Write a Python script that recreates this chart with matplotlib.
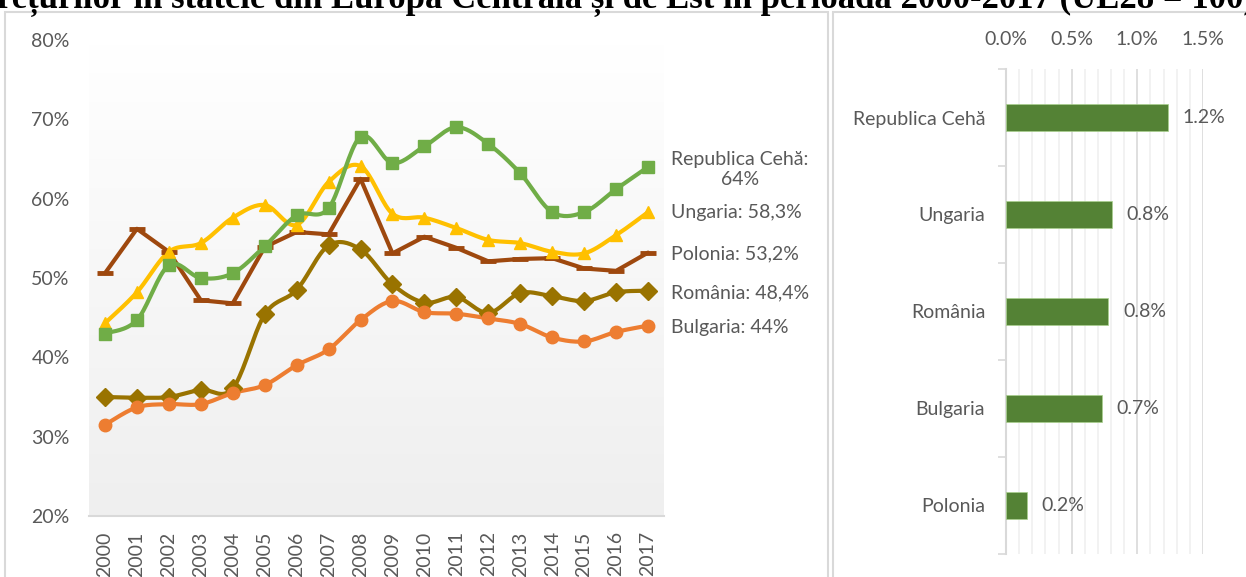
import matplotlib.pyplot as plt
from matplotlib.patches import Rectangle
from matplotlib.colors import LinearSegmentedColormap
import numpy as np

plt.rcParams['font.family'] = ['Lato', 'DejaVu Sans']

years = [str(y) for y in range(2000, 2018)]
ceha = [43.0, 44.7, 51.6, 50.0, 50.6, 54.0, 57.9, 58.8, 67.8, 64.5, 66.6, 69.0, 66.9, 63.2, 58.3, 58.3, 61.2, 64.0]
ungaria = [44.3, 48.2, 53.3, 54.4, 57.6, 59.2, 56.7, 62.1, 64.1, 58.1, 57.6, 56.3, 54.8, 54.4, 53.3, 53.1, 55.4, 58.3]
polonia = [50.6, 56.2, 53.3, 47.2, 46.8, 53.9, 55.8, 55.5, 62.5, 53.1, 55.2, 53.8, 52.1, 52.4, 52.5, 51.2, 50.9, 53.2]
romania = [35.0, 34.9, 35.0, 35.9, 36.1, 45.4, 48.5, 54.1, 53.6, 49.2, 46.9, 47.6, 45.6, 48.1, 47.7, 47.1, 48.2, 48.4]
bulgaria = [31.5, 33.7, 34.1, 34.1, 35.5, 36.5, 39.0, 41.0, 44.7, 47.1, 45.7, 45.5, 44.9, 44.2, 42.5, 42.0, 43.2, 44.0]

end_labels = ["Republica Cehă:\n64%", "Ungaria: 58,3%", "Polonia: 53,2%", "România: 48,4%", "Bulgaria: 44%"]

bar_countries = ["Republica Cehă", "Ungaria", "România", "Bulgaria", "Polonia"]
bar_values = [1.23, 0.81, 0.78, 0.73, 0.16]

GRAY = '#595959'
FS = 14


def smooth(x, y, n=20):
    # linie netezita ca in Excel (Bezier cu puncte de control Catmull-Rom)
    p = np.column_stack([x, y]).astype(float)
    out = []
    t = np.linspace(0, 1, n)[:, None]
    for i in range(len(p) - 1):
        p0 = p[i - 1] if i > 0 else p[i]
        p3 = p[i + 2] if i + 2 < len(p) else p[i + 1]
        c1 = p[i] + (p[i + 1] - p0) / 6
        c2 = p[i + 1] - (p3 - p[i]) / 6
        seg = ((1 - t) ** 3) * p[i] + 3 * ((1 - t) ** 2) * t * c1 + 3 * (1 - t) * t ** 2 * c2 + t ** 3 * p[i + 1]
        out.append(seg if i == 0 else seg[1:])
    out = np.vstack(out)
    return out[:, 0], out[:, 1]


fig = plt.figure(figsize=(12.46, 5.77), dpi=100)

# chenare panouri
fig.patches.append(Rectangle((5 / 1246, -0.01), 823 / 1246, 1 - 12 / 577 + 0.01,
                             transform=fig.transFigure, fill=False, ec='#D9D9D9', lw=1.5))
fig.patches.append(Rectangle((833 / 1246, -0.01), 420 / 1246, 1 - 12 / 577 + 0.01,
                             transform=fig.transFigure, fill=False, ec='#D9D9D9', lw=1.5))

fig.text(-3 / 1246, 1 - 8 / 577,
         "rețurilor în statele din Europa Centrală și de Est în perioada 2000-2017 (UE28 = 100)",
         family='Liberation Serif', weight='bold', fontsize=25, ha='left', va='baseline')

# grafic linii
ax = fig.add_axes([89 / 1246, 61 / 577, 575 / 1246, 476 / 577])
x = np.arange(len(years))
grad = np.linspace(1, 0, 100)[:, None]
cmap = LinearSegmentedColormap.from_list('g', ['#EFEFEF', '#FFFFFF'])
ax.imshow(grad, extent=(-0.5, 17.5, 20, 80), aspect='auto', cmap=cmap, zorder=0)

series = [
    (romania, '#997300', 'D', 9, True),
    (bulgaria, '#ED7D31', 'o', 9, True),
    (polonia, '#9E480E', '_', 11, False),
    (ungaria, '#FFC000', '^', 9, True),
    (ceha, '#70AD47', 's', 8.5, True),
]
for vals, col, mk, ms, sm in series:
    if sm:
        sx, sy = smooth(x, vals)
    else:
        sx, sy = x, vals
    ax.plot(sx, sy, color=col, lw=3, solid_capstyle='round', zorder=2)
    ax.plot(x, vals, ls='none', marker=mk, ms=ms, color=col, mew=3.5 if mk == '_' else 1, zorder=3)

ax.text(19.88, 63.7, end_labels[0], ha='center', va='center', fontsize=FS, color=GRAY, linespacing=1.25)
ax.text(17.72, 58.2, end_labels[1], ha='left', va='center', fontsize=FS, color=GRAY)
ax.text(17.72, 53.0, end_labels[2], ha='left', va='center', fontsize=FS, color=GRAY)
ax.text(17.72, 48.1, end_labels[3], ha='left', va='center', fontsize=FS, color=GRAY)
ax.text(17.72, 43.8, end_labels[4], ha='left', va='center', fontsize=FS, color=GRAY)

ax.set_xlim(-0.5, 17.5)
ax.set_ylim(20, 80)
ax.set_xticks(x)
ax.set_xticklabels(years, rotation=90)
ax.set_yticks(range(20, 81, 10))
ax.set_yticklabels([f"{v}%" for v in range(20, 81, 10)])
ax.tick_params(axis='x', length=0, pad=11, labelsize=FS, labelcolor=GRAY)
ax.tick_params(axis='y', length=0, pad=14, labelsize=FS, labelcolor=GRAY)
for s in ['top', 'right', 'left']:
    ax.spines[s].set_visible(False)
ax.spines['bottom'].set_color('#D9D9D9')
ax.spines['bottom'].set_linewidth(1.5)

# grafic bare
ax2 = fig.add_axes([1006 / 1246, 23 / 577, 197 / 1246, 485 / 577])
yb = np.arange(len(bar_countries))
ax2.barh(yb, bar_values, height=0.27, color='#548235', edgecolor='#A9D18E', lw=0.5, zorder=3)
for yi, v in zip(yb, bar_values):
    ax2.text(v + 0.11, yi, f"{v:.1f}%", va='center', ha='left', fontsize=FS, color=GRAY)
ax2.set_xlim(0, 1.5)
ax2.set_ylim(len(bar_countries) - 0.5, -0.5)
ax2.set_yticks(yb)
ax2.set_yticklabels(bar_countries)
ax2.set_yticks(np.arange(-0.5, len(bar_countries)), minor=True)
ax2.tick_params(axis='y', which='major', length=0, pad=15, labelsize=FS, labelcolor=GRAY)
ax2.tick_params(axis='y', which='minor', length=6, color='#D9D9D9', width=1.2)
ax2.xaxis.tick_top()
ax2.set_xticks([0, 0.5, 1.0, 1.5])
ax2.set_xticklabels(["0.0%", "0.5%", "1.0%", "1.5%"])
ax2.set_xticks(np.arange(0, 1.51, 0.1), minor=True)
ax2.tick_params(axis='x', which='both', length=0, pad=15, labelsize=FS, labelcolor=GRAY)
ax2.grid(axis='x', which='minor', color='#F0F0F0', lw=1.2, zorder=0)
ax2.grid(axis='x', which='major', color='#D9D9D9', lw=1.2, zorder=1)
for s in ['top', 'right', 'bottom']:
    ax2.spines[s].set_visible(False)
ax2.spines['left'].set_color('#D9D9D9')
ax2.spines['left'].set_linewidth(1.5)

fig.savefig('out.png', dpi=100)
